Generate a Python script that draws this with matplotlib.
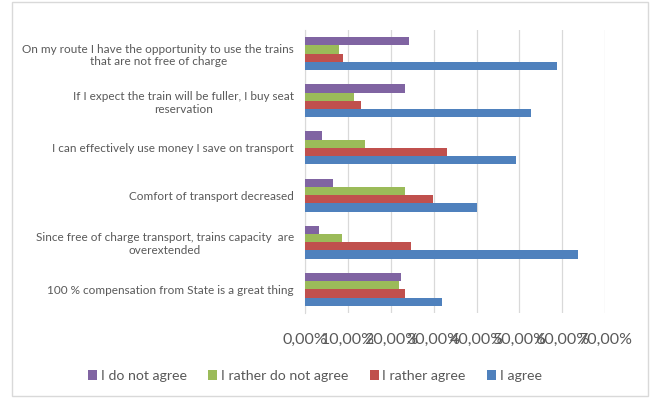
import numpy as np
import matplotlib
matplotlib.use("Agg")
import matplotlib.pyplot as plt
from matplotlib.patches import Rectangle

plt.rcParams['font.family'] = ['Lato', 'DejaVu Sans']

# categories from bottom to top (Excel order)
categories = ["100 % compensation from State is a great thing",
              "Since free of charge transport, trains capacity  are\noverextended",
              "Comfort of transport decreased",
              "I can effectively use money I save on transport",
              "If I expect the train will be fuller, I buy seat\nreservation",
              "On my route I have the opportunity to use the trains\nthat are not free of charge"]

agree = [31.9, 63.8, 40.0, 49.2, 52.7, 58.7]
rather_agree = [23.4, 24.6, 29.8, 33.0, 13.0, 8.9]
rather_not = [21.9, 8.5, 23.4, 13.9, 11.3, 7.9]
not_agree = [22.3, 3.2, 6.6, 4.0, 23.3, 24.3]

series = [("I do not agree", not_agree, "#8064A2"),
          ("I rather do not agree", rather_not, "#9BBB59"),
          ("I rather agree", rather_agree, "#C0504D"),
          ("I agree", agree, "#4F81BD")]

fig = plt.figure(figsize=(6.52, 3.98), dpi=100)
ax = fig.add_axes([0.468, 0.2136, 0.46, 0.711])

y = np.arange(len(categories))
h = 0.175
# purple on top, blue at bottom of each group
offsets = [1.5 * h, 0.5 * h, -0.5 * h, -1.5 * h]
for (name, vals, col), off in zip(series, offsets):
    ax.barh(y + off, vals, height=h, color=col, label=name, zorder=3)

ax.set_xlim(0, 70)
ax.set_ylim(-0.5, len(categories) - 0.5)
ax.set_xticks(np.arange(0, 71, 10))
ax.set_xticklabels(["%d,00%%" % v for v in range(0, 71, 10)], fontsize=11.5, color="#595959")
ax.set_yticks(y)
ax.set_yticklabels(categories, fontsize=8.5, color="#595959", multialignment="center")
ax.tick_params(axis="both", length=0, pad=8)
ax.tick_params(axis="x", pad=14)
ax.grid(axis="x", color="#D9D9D9", linewidth=0.9, zorder=0)
for s in ["top", "right", "bottom"]:
    ax.spines[s].set_visible(False)
ax.spines["left"].set_color("#D9D9D9")

handles, labels = ax.get_legend_handles_labels()
fig.legend(handles, labels, loc="center", bbox_to_anchor=(0.483, 0.055), ncol=4,
           frameon=False, fontsize=10.2, handlelength=0.65, handleheight=0.65,
           handletextpad=0.25, columnspacing=1.5, labelcolor="#595959")

fig.patches.append(Rectangle((0.018, 0.005), 0.976, 0.99, transform=fig.transFigure,
                             fill=False, edgecolor="#D9D9D9", linewidth=1))

fig.savefig("out.png", dpi=100)
